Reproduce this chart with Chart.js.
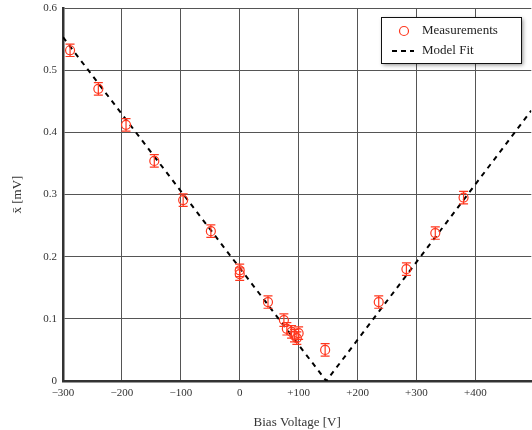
<!DOCTYPE html>
<html>
<head>
<meta charset="utf-8">
<script src="https://cdn.jsdelivr.net/npm/chart.js@4.4.1/dist/chart.umd.min.js"></script>
<style>
  html, body { margin: 0; padding: 0; background: #fff; overflow: hidden; }
  #wrap { width: 532px; height: 430px; overflow: hidden; }
</style>
</head>
<body>
<div id="wrap"><canvas id="myChart" width="537" height="430"></canvas></div>
<script>
// datos
const biasV = [-288, -240, -193, -145, -96, -49, 0, 0, 48, 75, 80, 88, 93, 97, 100, 145, 236, 283, 332, 380];
const meanX = [0.532, 0.470, 0.412, 0.354, 0.291, 0.241, 0.178, 0.172, 0.127, 0.098, 0.084, 0.079, 0.073, 0.069, 0.077, 0.050, 0.127, 0.180, 0.238, 0.295];
const errX  = [0.010, 0.010, 0.010, 0.010, 0.010, 0.010, 0.010, 0.010, 0.010, 0.010, 0.010, 0.010, 0.010, 0.010, 0.010, 0.010, 0.010, 0.010, 0.010, 0.010];

const fitV = [-300, 147, 495];
const fitX = [0.553, 0, 0.435];

const xTicks = [-300, -200, -100, 0, 100, 200, 300, 400];
const yTicks = [0, 0.1, 0.2, 0.3, 0.4, 0.5, 0.6];

const RED = "rgb(255,55,30)";
const SERIF = "'Liberation Serif', 'DejaVu Serif', serif";

function fmtX(v) {
  if (v > 0) return "+" + v;
  if (v < 0) return "\u2212" + Math.abs(v);
  return "0";
}

// barras de error
const errorBars = {
  id: "errorBars",
  afterDatasetsDraw(chart) {
    const ctx = chart.ctx;
    const xs = chart.scales.x, ys = chart.scales.y;
    ctx.save();
    ctx.strokeStyle = RED;
    ctx.lineWidth = 1.2;
    for (let i = 0; i < biasV.length; i++) {
      const px = xs.getPixelForValue(biasV[i]);
      const top = ys.getPixelForValue(meanX[i] + errX[i]);
      const bot = ys.getPixelForValue(meanX[i] - errX[i]);
      ctx.beginPath();
      ctx.moveTo(px, top); ctx.lineTo(px, bot);
      ctx.moveTo(px - 4.5, top); ctx.lineTo(px + 4.5, top);
      ctx.moveTo(px - 4.5, bot); ctx.lineTo(px + 4.5, bot);
      ctx.stroke();
    }
    ctx.restore();
  }
};

// leyenda con sombra
const boxLegend = {
  id: "boxLegend",
  afterDraw(chart) {
    const ctx = chart.ctx;
    const x = 381, y = 17, w = 140, h = 46;
    ctx.save();
    ctx.shadowColor = "rgba(0,0,0,0.45)";
    ctx.shadowBlur = 4;
    ctx.shadowOffsetX = 2;
    ctx.shadowOffsetY = 2;
    ctx.fillStyle = "#fff";
    ctx.fillRect(x, y, w, h);
    ctx.shadowColor = "transparent";
    ctx.strokeStyle = "#111";
    ctx.lineWidth = 1;
    ctx.strokeRect(x + 0.5, y + 0.5, w, h);

    ctx.strokeStyle = RED;
    ctx.lineWidth = 1.2;
    ctx.beginPath();
    ctx.arc(404, 31, 4.5, 0, Math.PI * 2);
    ctx.stroke();

    ctx.strokeStyle = "#000";
    ctx.lineWidth = 2;
    ctx.setLineDash([5, 4]);
    ctx.beginPath();
    ctx.moveTo(392, 51); ctx.lineTo(414, 51);
    ctx.stroke();
    ctx.setLineDash([]);

    ctx.fillStyle = "#222";
    ctx.font = "13px " + SERIF;
    ctx.textBaseline = "middle";
    ctx.fillText(chart.data.datasets[0].label, 422, 31);
    ctx.fillText(chart.data.datasets[1].label, 422, 51);
    ctx.restore();
  }
};

const data = {
  datasets: [
    {
      label: "Measurements",
      data: biasV.map((v, i) => ({ x: v, y: meanX[i] })),
      pointStyle: "circle",
      pointRadius: 4.5,
      pointBorderWidth: 1.2,
      pointBorderColor: RED,
      pointBackgroundColor: "rgba(0,0,0,0)",
      showLine: false,
      order: 1
    },
    {
      label: "Model Fit",
      data: fitV.map((v, i) => ({ x: v, y: fitX[i] })),
      showLine: true,
      borderColor: "#000",
      borderWidth: 2,
      borderDash: [5, 5],
      pointRadius: 0,
      order: 2
    }
  ]
};

const config = {
  type: "scatter",
  data: data,
  plugins: [errorBars, boxLegend],
  options: {
    responsive: false,
    animation: false,
    layout: { padding: { top: 8, right: 0, left: 10, bottom: 0 } },
    plugins: {
      legend: { display: false },
      tooltip: { enabled: false }
    },
    scales: {
      x: {
        type: "linear",
        min: -300,
        max: 495,
        afterFit: (s) => { s.height = 49; s.paddingRight = 0; s.paddingLeft = 0; },
        afterBuildTicks: (s) => { s.ticks = xTicks.map((v) => ({ value: v })); },
        ticks: {
          padding: 6,
          autoSkip: false,
          maxRotation: 0,
          color: "#333",
          font: { family: SERIF, size: 11 },
          callback: (v) => fmtX(v)
        },
        grid: { color: "#555", lineWidth: 1, drawTicks: false },
        border: { color: "#333", width: 2.5 },
        title: {
          display: true,
          text: "Bias Voltage [V]",
          color: "#333",
          font: { family: SERIF, size: 13 },
          padding: { top: 7, bottom: 0 }
        }
      },
      y: {
        min: 0,
        max: 0.6,
        afterFit: (s) => { s.width = 53; s.paddingTop = 0; s.paddingBottom = 0; },
        afterBuildTicks: (s) => { s.ticks = yTicks.map((v) => ({ value: v })); },
        ticks: {
          padding: 6,
          color: "#333",
          font: { family: SERIF, size: 11 },
          callback: (v) => (v === 0 ? "0" : v.toFixed(1))
        },
        grid: { color: "#555", lineWidth: 1, drawTicks: false },
        border: { color: "#333", width: 2.5 },
        title: {
          display: true,
          text: "x\u0304 [mV]",
          color: "#333",
          font: { family: SERIF, size: 13 },
          padding: { top: 0, bottom: 10 }
        }
      }
    }
  }
};

const myChart = new Chart(document.getElementById("myChart"), config);
</script>
</body>
</html>
